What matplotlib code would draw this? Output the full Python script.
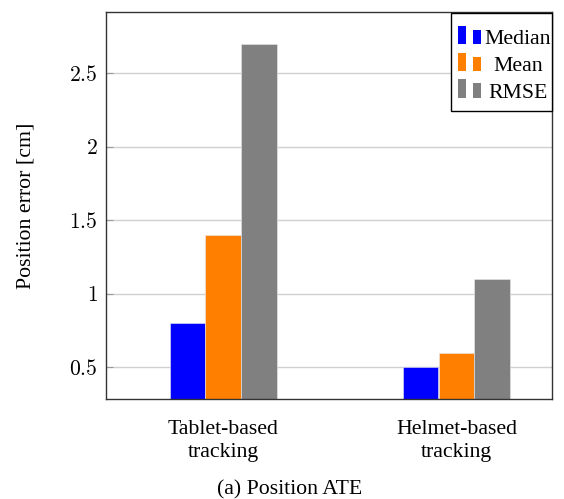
import numpy as np
import matplotlib
matplotlib.use('Agg')
import matplotlib.pyplot as plt
from matplotlib.patches import Rectangle
from matplotlib.ticker import FuncFormatter

groups = ['Tablet-based\ntracking', 'Helmet-based\ntracking']
series = ['Median', 'Mean', 'RMSE']
median = [0.8, 0.5]
mean = [1.4, 0.6]
rmse = [2.7, 1.1]
colors = ['#0000ff', '#ff8000', '#808080']

plt.rcParams['font.family'] = 'Liberation Serif'
plt.rcParams['mathtext.fontset'] = 'cm'

W, H = 564, 499
FS = 15.7


def px(x, y):
    # pixel position (from top-left) -> figure fraction
    return x / W, 1 - y / H


fig = plt.figure(figsize=(W / 100, H / 100), dpi=100)
ax = fig.add_axes([106 / W, 1 - 399 / H, 446 / W, 387 / H])

x = np.arange(len(groups))
w = 0.152
for i, (vals, c) in enumerate(zip([median, mean, rmse], colors)):
    ax.bar(x + (i - 1) * 0.153, vals, w, bottom=0, color=c,
           edgecolor='#e8e8f0', linewidth=0.4, zorder=2)

ax.set_xlim(-0.502, 1.41)
ax.set_ylim(0.284, 2.917)
ax.set_yticks([0.5, 1, 1.5, 2, 2.5])
ax.yaxis.set_major_formatter(FuncFormatter(lambda v, p: '$%g$' % v))
ax.set_xticks(x)
ax.set_xticklabels(groups, fontsize=FS, linespacing=1.3)
ax.tick_params(axis='x', length=0, pad=15)
ax.tick_params(axis='y', direction='in', length=5, color='#999999',
               labelsize=15.5, pad=6)
ax.grid(axis='y', color='#d0d0d0', linewidth=1.0, zorder=0)
ax.set_axisbelow(True)
for s in ax.spines.values():
    s.set_color('#333333')
    s.set_linewidth(1.0)

ax.set_ylabel('Position error [cm]', fontsize=FS, labelpad=24)

# legend drawn pgfplots-style: framed box, two small bars, centred text
x0, y0 = px(451, 111)
x1, y1 = px(552, 13)
fig.patches.append(Rectangle((x0, y0), x1 - x0, y1 - y0, facecolor='white',
                             edgecolor='black', linewidth=1.0,
                             transform=fig.transFigure, zorder=5))
for k, (name, c) in enumerate(zip(series, colors)):
    base = 44.3 + k * 26.7
    for bx, bh in [(458.3, 18.3), (472.5, 14.3)]:
        lx, ly = px(bx, base)
        fig.patches.append(Rectangle((lx, ly), 8 / W, bh / H, facecolor=c,
                                     edgecolor='none',
                                     transform=fig.transFigure, zorder=6))
    tx, ty = px(518, base)
    fig.text(tx, ty, name, ha='center', va='baseline', fontsize=FS,
             zorder=7)

fig.text(289.5 / W, 1 - 494 / H, '(a) Position ATE', ha='center',
         va='baseline', fontsize=FS)

fig.savefig('out.png', dpi=100)
